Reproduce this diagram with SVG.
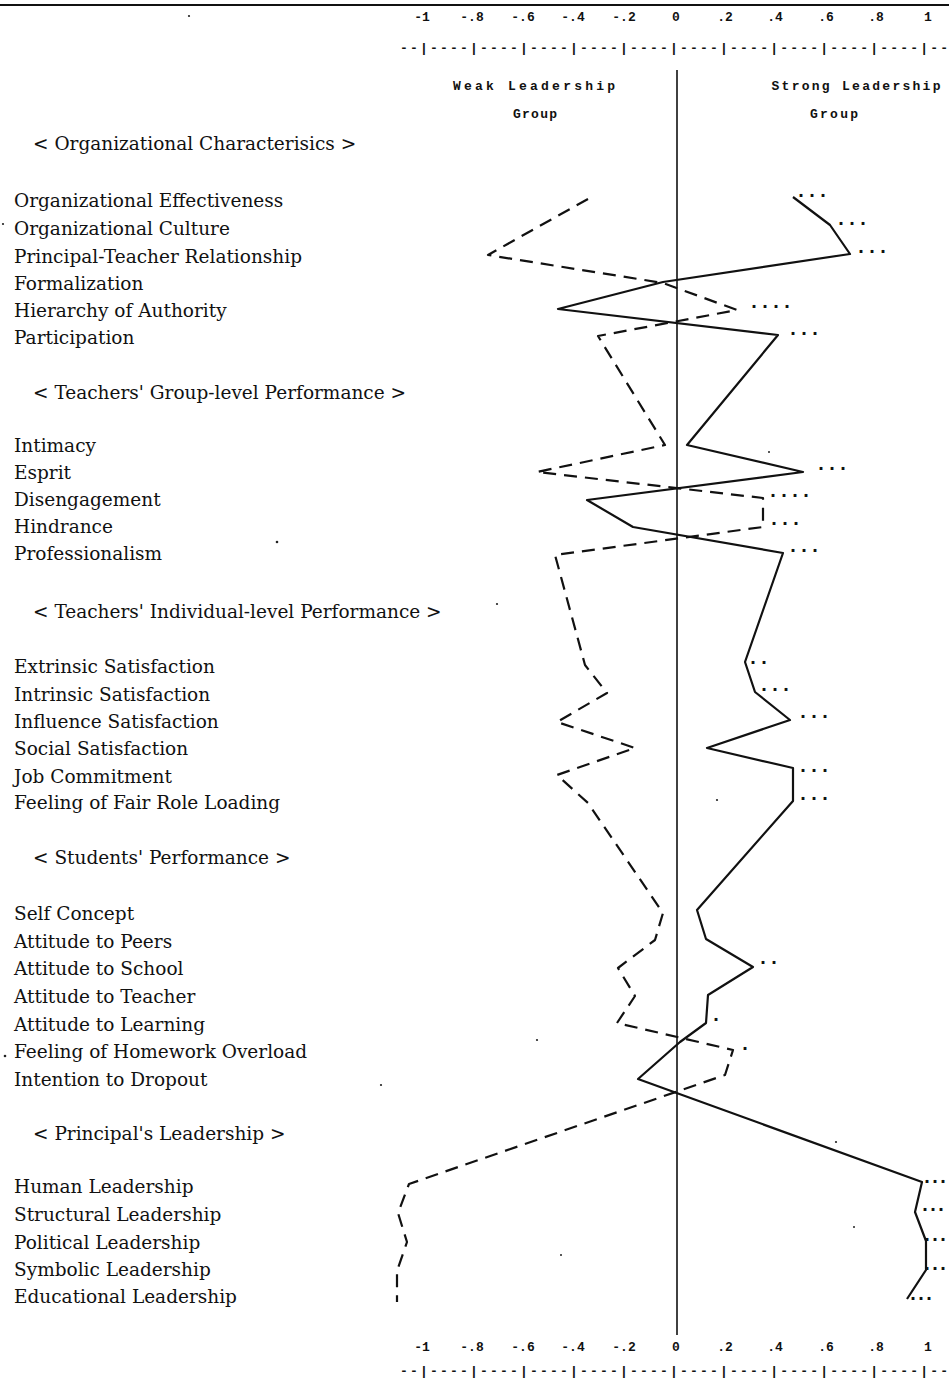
<svg xmlns="http://www.w3.org/2000/svg" width="949" height="1383" viewBox="0 0 949 1383">
<style>
.lbl{font-family:"DejaVu Serif","Liberation Serif",serif;font-size:18.5px;fill:#111}
.ax{font-family:"Liberation Mono","DejaVu Sans Mono",monospace;font-weight:bold;font-size:13px;fill:#111;text-anchor:middle}
.tk{font-family:"Liberation Mono","DejaVu Sans Mono",monospace;font-weight:bold;font-size:13px;fill:#111}
.grp{font-family:"Liberation Mono","DejaVu Sans Mono",monospace;font-weight:bold;font-size:13px;fill:#111;text-anchor:middle}
.sig{font-family:"Liberation Mono","DejaVu Sans Mono",monospace;font-weight:bold;font-size:20px;letter-spacing:-1px;fill:#111}
.sig2{font-family:"Liberation Mono","DejaVu Sans Mono",monospace;font-weight:bold;font-size:20px;letter-spacing:-4px;fill:#111}
.weak{fill:none;stroke:#111;stroke-width:2.2;stroke-dasharray:13 8;stroke-linejoin:round}
.strong{fill:none;stroke:#111;stroke-width:2.2;stroke-linejoin:round}
.spk{fill:#222}
</style>
<rect width="949" height="1383" fill="#fff"/>
<g id="axes">
<line x1="0" y1="5" x2="949" y2="5" stroke="#111" stroke-width="2"/>
<line x1="677" y1="70" x2="677" y2="1335" stroke="#111" stroke-width="1.6"/>
<g id="axis-top">
<text class="ax" x="422" y="21">-1</text><text class="ax" x="472" y="21">-.8</text><text class="ax" x="523" y="21">-.6</text><text class="ax" x="573" y="21">-.4</text><text class="ax" x="624" y="21">-.2</text><text class="ax" x="676" y="21">0</text><text class="ax" x="725" y="21">.2</text><text class="ax" x="775" y="21">.4</text><text class="ax" x="826" y="21">.6</text><text class="ax" x="876" y="21">.8</text><text class="ax" x="928" y="21">1</text>
<text class="tk" x="400" y="52" textLength="548" lengthAdjust="spacing">--|----|----|----|----|----|----|----|----|----|----|--</text>
</g>
<g id="axis-bottom">
<text class="ax" x="422" y="1351">-1</text><text class="ax" x="472" y="1351">-.8</text><text class="ax" x="523" y="1351">-.6</text><text class="ax" x="573" y="1351">-.4</text><text class="ax" x="624" y="1351">-.2</text><text class="ax" x="676" y="1351">0</text><text class="ax" x="725" y="1351">.2</text><text class="ax" x="775" y="1351">.4</text><text class="ax" x="826" y="1351">.6</text><text class="ax" x="876" y="1351">.8</text><text class="ax" x="928" y="1351">1</text>
<text class="tk" x="400" y="1375" textLength="548" lengthAdjust="spacing">--|----|----|----|----|----|----|----|----|----|----|--</text>
</g>
<g id="group-weak">
<text class="grp" x="534" y="90" textLength="162" lengthAdjust="spacing">Weak Leadership</text>
<text class="grp" x="535" y="118" textLength="44" lengthAdjust="spacing">Group</text>
</g>
<g id="group-strong">
<text class="grp" x="856" y="90" textLength="169" lengthAdjust="spacing">Strong Leadership</text>
<text class="grp" x="834" y="118" textLength="48" lengthAdjust="spacing">Group</text>
</g>
</g>
<g id="labels">
<g id="sec-org"><text class="lbl" x="33" y="150">&lt; Organizational Characterisics &gt;</text></g>
<g id="r-oe"><text class="lbl" x="14" y="207">Organizational Effectiveness</text></g>
<g id="r-oc"><text class="lbl" x="14" y="235">Organizational Culture</text></g>
<g id="r-ptr"><text class="lbl" x="14" y="263">Principal-Teacher Relationship</text></g>
<g id="r-form"><text class="lbl" x="14" y="290">Formalization</text></g>
<g id="r-hoa"><text class="lbl" x="14" y="317">Hierarchy of Authority</text></g>
<g id="r-part"><text class="lbl" x="14" y="344">Participation</text></g>
<g id="sec-grp"><text class="lbl" x="33" y="399">&lt; Teachers' Group-level Performance &gt;</text></g>
<g id="r-int"><text class="lbl" x="14" y="452">Intimacy</text></g>
<g id="r-esp"><text class="lbl" x="14" y="479">Esprit</text></g>
<g id="r-dis"><text class="lbl" x="14" y="506">Disengagement</text></g>
<g id="r-hin"><text class="lbl" x="14" y="533">Hindrance</text></g>
<g id="r-pro"><text class="lbl" x="14" y="560">Professionalism</text></g>
<g id="sec-ind"><text class="lbl" x="33" y="618">&lt; Teachers' Individual-level Performance &gt;</text></g>
<g id="r-ext"><text class="lbl" x="14" y="673">Extrinsic Satisfaction</text></g>
<g id="r-intr"><text class="lbl" x="14" y="701">Intrinsic Satisfaction</text></g>
<g id="r-inf"><text class="lbl" x="14" y="728">Influence Satisfaction</text></g>
<g id="r-soc"><text class="lbl" x="14" y="755">Social Satisfaction</text></g>
<g id="r-job"><text class="lbl" x="14" y="783">Job Commitment</text></g>
<g id="r-ffrl"><text class="lbl" x="14" y="809">Feeling of Fair Role Loading</text></g>
<g id="sec-stu"><text class="lbl" x="33" y="864">&lt; Students' Performance &gt;</text></g>
<g id="r-self"><text class="lbl" x="14" y="920">Self Concept</text></g>
<g id="r-peer"><text class="lbl" x="14" y="948">Attitude to Peers</text></g>
<g id="r-sch"><text class="lbl" x="14" y="975">Attitude to School</text></g>
<g id="r-tea"><text class="lbl" x="14" y="1003">Attitude to Teacher</text></g>
<g id="r-lea"><text class="lbl" x="14" y="1031">Attitude to Learning</text></g>
<g id="r-hw"><text class="lbl" x="14" y="1058">Feeling of Homework Overload</text></g>
<g id="r-drop"><text class="lbl" x="14" y="1086">Intention to Dropout</text></g>
<g id="sec-lead"><text class="lbl" x="33" y="1140">&lt; Principal's Leadership &gt;</text></g>
<g id="r-hum"><text class="lbl" x="14" y="1193">Human Leadership</text></g>
<g id="r-str"><text class="lbl" x="14" y="1221">Structural Leadership</text></g>
<g id="r-pol"><text class="lbl" x="14" y="1249">Political Leadership</text></g>
<g id="r-sym"><text class="lbl" x="14" y="1276">Symbolic Leadership</text></g>
<g id="r-edu"><text class="lbl" x="14" y="1303">Educational Leadership</text></g>
</g>
<g id="connectors">
<polyline class="weak" points="588,199 536,228 488,255 663,283 737,310 598,336 665,445 537,472 763,498 763,527 555,555 585,665 607,693 557,722 635,748 557,775 588,803 663,913 655,940 618,968 635,996 617,1023 733,1050 725,1075 409,1184 398,1213 407,1242 397,1271 397,1302"/>
<polyline class="strong" points="793,197 830,225 850,254 663,282 558,309 778,335 687,445 803,472 587,500 633,527 783,553 745,662 755,692 790,720 707,748 793,768 793,801 697,910 706,939 753,967 708,995 706,1023 680,1042 638,1079 922,1182 915,1212 926,1241 926,1270 907,1299"/>
</g>
<g id="significance">
<text class="sig" x="795" y="197">...</text>
<text class="sig" x="835" y="225">...</text>
<text class="sig" x="855" y="253">...</text>
<text class="sig" x="748" y="308">....</text>
<text class="sig" x="787" y="335">...</text>
<text class="sig" x="815" y="470">...</text>
<text class="sig" x="767" y="497">....</text>
<text class="sig" x="768" y="525">...</text>
<text class="sig" x="787" y="552">...</text>
<text class="sig" x="747" y="664">..</text>
<text class="sig" x="758" y="691">...</text>
<text class="sig" x="797" y="718">...</text>
<text class="sig" x="797" y="772">...</text>
<text class="sig" x="797" y="800">...</text>
<text class="sig" x="757" y="964">..</text>
<text class="sig" x="710" y="1021">.</text>
<text class="sig" x="739" y="1050">.</text>
<text class="sig2" x="921" y="1183">...</text>
<text class="sig2" x="919" y="1211">...</text>
<text class="sig2" x="921" y="1241">...</text>
<text class="sig2" x="921" y="1270">...</text>
<text class="sig2" x="907" y="1300">...</text>
</g>
<g id="specks">
<circle class="spk" cx="189" cy="16" r="1.1"/>
<circle class="spk" cx="3" cy="224" r="1.1"/>
<circle class="spk" cx="5" cy="1056" r="1.3"/>
<circle class="spk" cx="277" cy="542" r="1.3"/>
<circle class="spk" cx="497" cy="604" r="1.1"/>
<circle class="spk" cx="537" cy="1040" r="1.1"/>
<circle class="spk" cx="381" cy="1085" r="1.1"/>
<circle class="spk" cx="836" cy="1142" r="1.1"/>
<circle class="spk" cx="854" cy="1227" r="1"/>
<circle class="spk" cx="561" cy="1255" r="1"/>
<circle class="spk" cx="717" cy="800" r="1.1"/>
<circle class="spk" cx="769" cy="452" r="1"/>
</g>
</svg>
